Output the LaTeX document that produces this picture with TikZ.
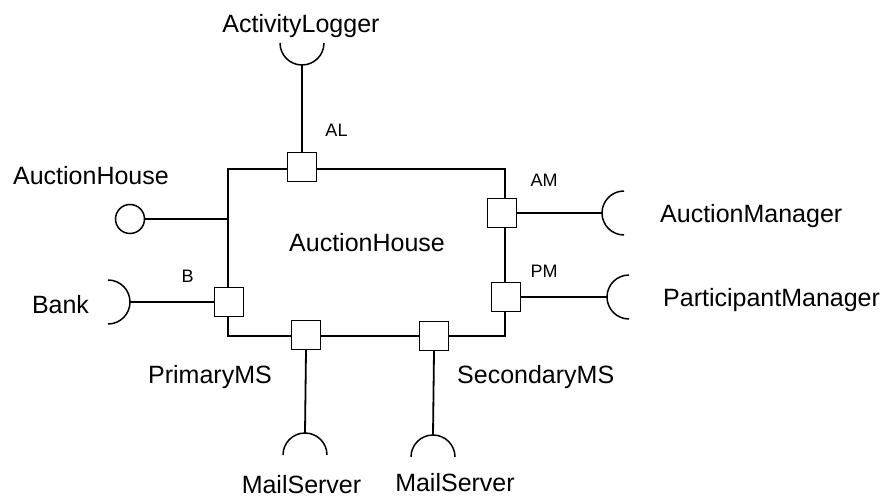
\documentclass[tikz,border=0pt]{standalone}
\usepackage{fontspec}
\setmainfont{Liberation Sans}
\begin{document}
\begin{tikzpicture}[x=1pt,y=1pt,
  big/.style={font=\fontsize{25}{28}\selectfont, inner sep=0pt},
  small/.style={font=\fontsize{18}{20}\selectfont, inner sep=0pt},
  port/.style={draw, fill=white, line width=1.4pt, minimum size=29pt, inner sep=0pt},
  wire/.style={line width=1.8pt},
  sock/.style={line width=1.5pt}]
\useasboundingbox (0,0) rectangle (890,498);

% component body
\coordinate (bodySW) at (228,162);
\coordinate (bodyNE) at (505,329);
\draw[wire] (bodySW) rectangle (bodyNE);
\node[big, anchor=base] (bodyname) at (367,246) {AuctionHouse};

% provided interface (lollipop) on the left
\coordinate (ahEdge) at (228,279);
\node[draw, circle, line width=1.5pt, minimum size=29pt, inner sep=0pt] (ahBall) at (130,279) {};
\draw[wire] (ahBall) -- (ahEdge);
\node[big, anchor=base] (ahName) at (91,313) {AuctionHouse};

% ports
\node[port] (pAL) at (302,331) {};
\node[port] (pB)  at (229,196) {};
\node[port] (pAM) at (502,285) {};
\node[port] (pPM) at (506,201) {};
\node[port] (pP)  at (306,163) {};
\node[port] (pS)  at (434,162) {};

% port labels
\node[small, anchor=base] (lAL) at (336.5,361) {AL};
\node[small, anchor=base] (lB)  at (187.5,215) {B};
\node[small, anchor=base] (lAM) at (544,311) {AM};
\node[small, anchor=base] (lPM) at (544,220) {PM};

% required interfaces (sockets): coordinate at the arc's apex
\coordinate (sAL) at (302,433);
\coordinate (sB)  at (130,196);
\coordinate (sAM) at (602,285);
\coordinate (sPM) at (607,201);
\coordinate (sP)  at (305,65);
\coordinate (sS)  at (433,63);

\draw[sock] (sAL) ++(-22,22) arc[start angle=180, end angle=360, radius=22];
\draw[sock] (sB)  ++(-22,22) arc[start angle=90,  end angle=-90, radius=22];
\draw[sock] (sAM) ++(22,22)  arc[start angle=90,  end angle=270, radius=22];
\draw[sock] (sPM) ++(22,22)  arc[start angle=90,  end angle=270, radius=22];
\draw[sock] (sP)  ++(-22,-22) arc[start angle=180, end angle=0,  radius=22];
\draw[sock] (sS)  ++(-22,-22) arc[start angle=180, end angle=0,  radius=22];

% connectors
\draw[wire] (pAL.north) -- (sAL);
\draw[wire] (pB.west)   -- (sB);
\draw[wire] (pAM.east)  -- (sAM);
\draw[wire] (pPM.east)  -- (sPM);
\draw[wire] (pP.south)  -- (sP);
\draw[wire] (pS.south)  -- (sS);

% interface names
\node[big, anchor=base] (nAL) at (301,465) {ActivityLogger};
\node[big, anchor=base] (nB)  at (60.5,185) {Bank};
\node[big, anchor=base west] (nAM) at (660,275) {AuctionManager};
\node[big, anchor=base west] (nPM) at (663,191) {ParticipantManager};
\node[big, anchor=base] (nP)  at (210,115) {PrimaryMS};
\node[big, anchor=base west] (nS) at (457,115) {SecondaryMS};
\node[big, anchor=base] (mP)  at (301.5,5) {MailServer};
\node[big, anchor=base] (mS)  at (455,7) {MailServer};
\end{tikzpicture}
\end{document}
